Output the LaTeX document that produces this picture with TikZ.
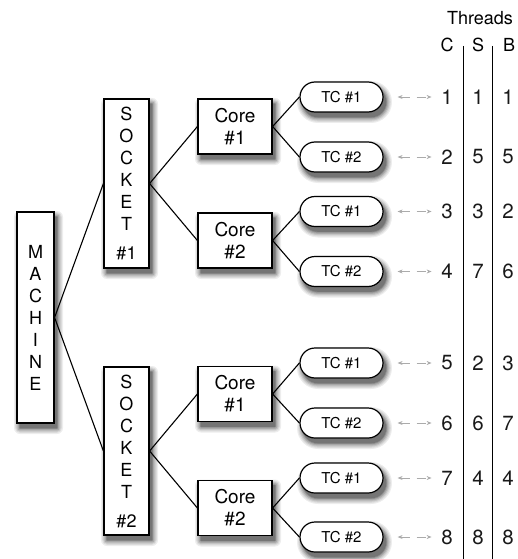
\documentclass[tikz,border=0pt]{standalone}
\usepackage{fontspec}
\setmainfont{TeX Gyre Heros}
\usetikzlibrary{shapes.misc,arrows.meta}

\tikzset{
  unitbox/.style={draw=black, line width=1.2pt, fill=white,
      rectangle, inner sep=0pt, align=center},
  vbox/.style={unitbox, minimum width=45pt, font=\fontsize{18}{22}\selectfont},
  corebox/.style={unitbox, minimum width=74pt, minimum height=55pt,
      font=\fontsize{19}{22}\selectfont},
  tcbox/.style={draw=black, line width=1.2pt, fill=white,
      rounded rectangle, minimum width=83pt, minimum height=30pt,
      inner sep=0pt, font=\fontsize{15}{18}\selectfont},
  link/.style={line width=1.1pt, black},
  num/.style={inner sep=0pt, font=\fontsize{20.5}{24}\selectfont, text=black!90},
  hdr/.style={inner sep=0pt, font=\fontsize{18}{20}\selectfont},
  mapping/.style={draw=black!33, line width=0.9pt, dash pattern=on 9pt off 7pt,
      {Stealth[length=5pt,width=4pt]}-{Stealth[length=5pt,width=4pt]},
      shorten <=14pt, shorten >=9.5pt},
  colrule/.style={line width=1pt, black}
}

% soft drop shadow: graded grey copies of a box outline, pushed right and down
% #1,#2 = centre, #3,#4 = width and height, #5 = corner radius
\newcommand\shadowunder[5]{%
  \foreach \spr/\tone in {6/7, 4.8/14, 3.6/23, 2.4/33, 1.2/44, 0.3/54} {
    \pgfmathsetmacro\shXa{#1-#3/2+3-\spr}
    \pgfmathsetmacro\shXb{#1+#3/2+3+\spr}
    \pgfmathsetmacro\shYa{#2-#4/2+5-\spr}
    \pgfmathsetmacro\shYb{#2+#4/2+5+\spr}
    \pgfmathsetmacro\shR{#5+\spr}
    \fill[black!\tone, rounded corners=\shR pt]
      (\shXa,\shYa) rectangle (\shXb,\shYb);
  }}

\begin{document}
\begin{tikzpicture}[x=1pt, y=-1pt]
  \useasboundingbox (0,0) rectangle (517,559);

  % drop shadows
  \shadowunder{35.5}{317.5}{37}{211}{0}
  \shadowunder{126.5}{183.5}{45}{169}{0}
  \shadowunder{126.5}{451}{45}{168}{0}
  \foreach \cy in {126.5, 240.5, 394, 508} {\shadowunder{235}{\cy}{74}{55}{0}}
  \foreach \ty in {97, 157, 211.5, 271.5, 363, 423, 478, 537}
    {\shadowunder{341.5}{\ty}{83}{30}{15}}

  % machine and sockets
  \node[vbox, minimum width=37pt, minimum height=211pt] (m) at (35.5,317.5)
    {M\\A\\C\\H\\I\\N\\E};
  \node[vbox, minimum height=169pt] (s1) at (126.5,183.5)
    {S\\O\\C\\K\\E\\T\\[7pt]\#1};
  \node[vbox, minimum height=168pt] (s2) at (126.5,451)
    {S\\O\\C\\K\\E\\T\\[7pt]\#2};

  % cores
  \node[corebox] (c11) at (235,126.5) {Core\\\#1};
  \node[corebox] (c12) at (235,240.5) {Core\\\#2};
  \node[corebox] (c21) at (235,394)   {Core\\\#1};
  \node[corebox] (c22) at (235,508)   {Core\\\#2};

  % thread contexts
  \node[tcbox] (t1) at (341.5,97)    {TC \#1};
  \node[tcbox] (t2) at (341.5,157)   {TC \#2};
  \node[tcbox] (t3) at (341.5,211.5) {TC \#1};
  \node[tcbox] (t4) at (341.5,271.5) {TC \#2};
  \node[tcbox] (t5) at (341.5,363)   {TC \#1};
  \node[tcbox] (t6) at (341.5,423)   {TC \#2};
  \node[tcbox] (t7) at (341.5,478)   {TC \#1};
  \node[tcbox] (t8) at (341.5,537)   {TC \#2};

  % tree links
  \draw[link] (m.east) -- (s1.west);
  \draw[link] (m.east) -- (s2.west);
  \draw[link] (s1.east) -- (c11.west);
  \draw[link] (s1.east) -- (c12.west);
  \draw[link] (s2.east) -- (c21.west);
  \draw[link] (s2.east) -- (c22.west);
  \draw[link] (c11.east) -- (t1.west);
  \draw[link] (c11.east) -- (t2.west);
  \draw[link] (c12.east) -- (t3.west);
  \draw[link] (c12.east) -- (t4.west);
  \draw[link] (c21.east) -- (t5.west);
  \draw[link] (c21.east) -- (t6.west);
  \draw[link] (c22.east) -- (t7.west);
  \draw[link] (c22.east) -- (t8.west);

  % thread numbering table
  \node[hdr] (thr) at (480,18.5) {Threads};
  \node[hdr] (hc) at (447,45) {C};
  \node[hdr] (hs) at (478,45) {S};
  \node[hdr] (hb) at (509,45) {B};
  \coordinate (r1top) at (463,46);
  \coordinate (r1bot) at (463,559);
  \coordinate (r2top) at (492,46);
  \coordinate (r2bot) at (492,559);
  \draw[colrule] (r1top) -- (r1bot);
  \draw[colrule] (r2top) -- (r2bot);

  \foreach \i/\y/\s/\b in {1/97/1/1, 2/157/5/5, 3/211.5/3/2, 4/271.5/7/6,
                           5/363/2/3, 6/423/6/7, 7/478/4/4, 8/537/8/8} {
    \node[num] (nc\i) at (447,\y) {\i};
    \node[num] (ns\i) at (478,\y) {\s};
    \node[num] (nb\i) at (508,\y) {\b};
    \draw[mapping] (t\i.east) -- (nc\i.west);
  }
\end{tikzpicture}
\end{document}
